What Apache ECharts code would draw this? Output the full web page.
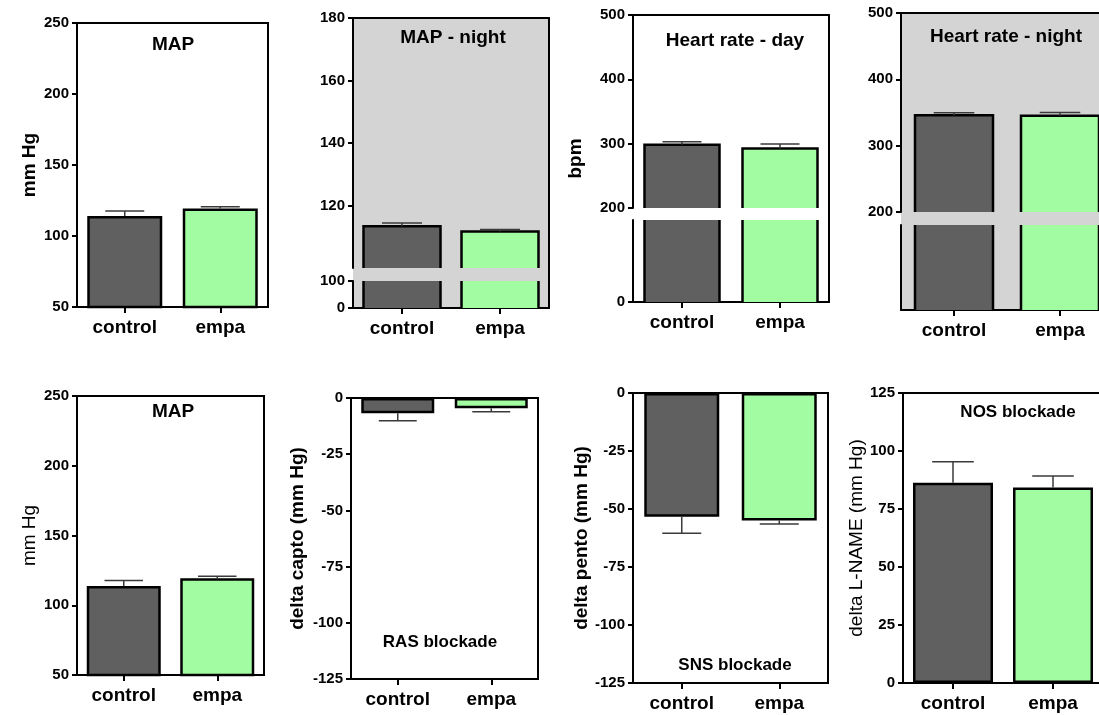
<!DOCTYPE html>
<html>
<head>
<meta charset="utf-8">
<script src="https://cdn.jsdelivr.net/npm/echarts@6/dist/echarts.min.js"></script>
<style>
  html, body { margin: 0; padding: 0; background: #fff; }
  #main { width: 1099px; height: 715px; }
</style>
</head>
<body>
<div id="main"></div>
<script>
const categories = ['control', 'empa'];

// top row: day / night telemetry
const mapDayMean = [114.0, 119.3];
const mapDayErr = [3.6, 1.3];
const mapNightMean = [113.4, 111.7];
const mapNightErr = [1.0, 0.6];
const hrDayMean = [298.5, 292.5];
const hrDayErr = [4.5, 7.0];
const hrNightMean = [346, 345];
const hrNightErr = [3.5, 5.0];

// bottom row: MAP and blockade responses
const mapMean = [113.8, 119.3];
const mapErr = [3.9, 1.5];
const captoMean = [-6.8, -4.6];
const captoErr = [3.3, 1.5];
const pentoMean = [-53.3, -55.0];
const pentoErr = [7.2, 1.5];
const lnameMean = [86.3, 84.3];
const lnameErr = [9.1, 4.9];

// axis ranges [min, max, interval]
const mapTicks = [50, 250, 50];
const mapNightUpperTicks = [100, 180, 20];
const mapNightLowerTicks = [0, 100, 100];
const hrUpperTicks = [200, 500, 100];
const hrLowerTicks = [0, 200, 200];
const deltaNegTicks = [-125, 0, 25];
const deltaPosTicks = [0, 125, 25];

const barColors = ['#606060', '#a2fca2'];
const FONT = '"Liberation Sans", Arial, sans-serif';
const GREY = '#d4d4d4';

const panels = [
  { title: 'MAP', tx: 173, ty: 46, left: 77, top: 23, width: 191, height: 284, bg: '#fff',
    mean: mapDayMean, err: mapDayErr, ticks: mapTicks, name: 'mm Hg', nameGap: 38, barWidth: 75 },
  { title: 'MAP - night', tx: 453, ty: 39, left: 353, top: 18, width: 196, bg: GREY,
    mean: mapNightMean, err: mapNightErr, barWidth: 77,
    broken: { upperH: 250, gap: 13, lowerH: 27, upper: mapNightUpperTicks, lower: mapNightLowerTicks,
      upperMin: false, lowerLabels: 'all', lowerTicks: true } },
  { title: 'Heart rate - day', tx: 735, ty: 42, left: 633, top: 15, width: 196, bg: '#fff',
    mean: hrDayMean, err: hrDayErr, barWidth: 75, name: 'bpm', nameGap: 48,
    broken: { upperH: 193, gap: 12, lowerH: 82, upper: hrUpperTicks, lower: hrLowerTicks,
      upperMin: true, lowerLabels: 'min', lowerTicks: true } },
  { title: 'Heart rate - night', tx: 1006, ty: 38, left: 901, top: 13, width: 212, bg: GREY,
    mean: hrNightMean, err: hrNightErr, barWidth: 78,
    broken: { upperH: 199, gap: 13, lowerH: 85, upper: hrUpperTicks, lower: hrLowerTicks,
      upperMin: true, lowerLabels: 'none', lowerTicks: false } },

  { title: 'MAP', tx: 173, ty: 413, left: 77, top: 396, width: 187, height: 279, bg: '#fff',
    mean: mapMean, err: mapErr, ticks: mapTicks, name: 'mm Hg', nameGap: 38, nameWeight: 'normal', barWidth: 74 },
  { title: 'RAS blockade', tx: 440, ty: 643, small: true, left: 351, top: 398, width: 187, height: 281, bg: '#fff',
    mean: captoMean, err: captoErr, ticks: deltaNegTicks, name: 'delta capto (mm Hg)', nameGap: 44, barWidth: 73 },
  { title: 'SNS blockade', tx: 735, ty: 666, small: true, left: 633, top: 393, width: 195, height: 290, bg: '#fff',
    mean: pentoMean, err: pentoErr, ticks: deltaNegTicks, name: 'delta pento (mm Hg)', nameGap: 34, barWidth: 75 },
  { title: 'NOS blockade', tx: 1018, ty: 413, small: true, left: 903, top: 393, width: 200, height: 290, bg: '#fff',
    mean: lnameMean, err: lnameErr, ticks: deltaPosTicks, name: 'delta L-NAME (mm Hg)', nameGap: 33,
    nameWeight: 'normal', barWidth: 80 }
];

const grid = [], xAxis = [], yAxis = [], series = [], title = [];

function addGrid(g) {
  grid.push(Object.assign({ containLabel: false, outerBoundsMode: 'none' }, g));
  return grid.length - 1;
}

function catAxis(gi, showLabels) {
  xAxis.push({
    type: 'category', gridIndex: gi, data: categories, show: true,
    axisLine: { show: showLabels, onZero: false, lineStyle: { color: '#000', width: 2 } },
    axisTick: { show: showLabels, alignWithLabel: true, length: 6, lineStyle: { color: '#000', width: 2 } },
    axisLabel: { show: showLabels, margin: 11, color: '#000', fontSize: 19, fontWeight: 'bold', fontFamily: FONT },
    splitLine: { show: false }
  });
  return xAxis.length - 1;
}

function valAxis(gi, ticks, opt) {
  opt = opt || {};
  yAxis.push({
    type: 'value', gridIndex: gi, min: ticks[0], max: ticks[1], interval: ticks[2],
    axisLine: { show: true, lineStyle: { color: '#000', width: 2 } },
    axisTick: { show: opt.ticks !== false, inside: false, length: 5, lineStyle: { color: '#000', width: 2 } },
    axisLabel: {
      show: opt.labels !== false, margin: 8, color: '#000', fontSize: 15, fontWeight: 'bold', fontFamily: FONT,
      showMinLabel: opt.showMin !== false, showMaxLabel: opt.showMax !== false
    },
    splitLine: { show: false },
    name: opt.name || '', nameLocation: 'middle', nameGap: opt.nameGap || 30,
    nameTextStyle: { color: '#000', fontSize: 19, fontWeight: opt.nameWeight || 'bold', fontFamily: FONT }
  });
  return yAxis.length - 1;
}

function addBars(xi, yi, p, border) {
  series.push({
    type: 'bar', xAxisIndex: xi, yAxisIndex: yi, barWidth: p.barWidth, clip: true,
    data: p.mean.map((v, i) => ({
      value: v,
      itemStyle: { color: barColors[i], borderColor: '#000', borderWidth: border ? 2.5 : 0 }
    })),
    silent: true, animation: false
  });
}

// outline for bars cut by an axis break: sides + top only, no edge at the cut
function addOutline(xi, yi, p) {
  series.push({
    type: 'custom', xAxisIndex: xi, yAxisIndex: yi, silent: true, animation: false, z: 3,
    data: p.mean.map((v, i) => [i, v]),
    encode: { x: 0, y: 1 },
    renderItem: function (params, api) {
      const c = api.coord([api.value(0), api.value(1)]);
      const cs = params.coordSys;
      const xl = c[0] - p.barWidth / 2, xr = c[0] + p.barWidth / 2;
      const yb = cs.y + cs.height;
      const style = { stroke: '#000', lineWidth: 2.5, fill: null };
      if (c[1] >= cs.y) {
        return { type: 'polyline', shape: { points: [[xl, yb], [xl, c[1]], [xr, c[1]], [xr, yb]] }, style: style };
      }
      return {
        type: 'group',
        children: [
          { type: 'line', shape: { x1: xl, y1: yb, x2: xl, y2: cs.y }, style: style },
          { type: 'line', shape: { x1: xr, y1: yb, x2: xr, y2: cs.y }, style: style }
        ]
      };
    }
  });
}

function addErrors(xi, yi, p) {
  series.push({
    type: 'custom', xAxisIndex: xi, yAxisIndex: yi, silent: true, animation: false, z: 4,
    data: p.mean.map((v, i) => [i, v, p.err[i]]),
    encode: { x: 0, y: 1 },
    renderItem: function (params, api) {
      const m = api.value(1), e = api.value(2);
      const dir = m >= 0 ? 1 : -1;
      const base = api.coord([api.value(0), m]);
      const tip = api.coord([api.value(0), m + dir * e]);
      const hw = p.barWidth * 0.26;
      const style = { stroke: '#3a3a3a', lineWidth: 1.5 };
      return {
        type: 'group',
        children: [
          { type: 'line', shape: { x1: base[0], y1: base[1], x2: tip[0], y2: tip[1] }, style: style },
          { type: 'line', shape: { x1: tip[0] - hw, y1: tip[1], x2: tip[0] + hw, y2: tip[1] }, style: style }
        ]
      };
    }
  });
}

panels.forEach(p => {
  const fs = p.small ? 17 : 19;
  title.push({
    text: p.title, left: p.tx, top: p.ty - fs / 2 - 1, textAlign: 'center', padding: 0,
    textStyle: { color: '#000', fontSize: fs, fontWeight: 'bold', fontFamily: FONT }
  });

  if (!p.broken) {
    const gi = addGrid({ left: p.left, top: p.top, width: p.width, height: p.height,
      show: true, backgroundColor: p.bg, borderColor: '#000', borderWidth: 2 });
    const xi = catAxis(gi, true);
    const yi = valAxis(gi, p.ticks, { name: p.name, nameGap: p.nameGap, nameWeight: p.nameWeight });
    addBars(xi, yi, p, true);
    addErrors(xi, yi, p);
    return;
  }

  // broken axis: background frame + upper and lower segments
  const b = p.broken;
  const totalH = b.upperH + b.gap + b.lowerH;
  const bg = addGrid({ left: p.left, top: p.top, width: p.width, height: totalH,
    show: true, backgroundColor: p.bg, borderWidth: 0 });
  xAxis.push({ type: 'category', gridIndex: bg, data: categories, position: 'top',
    axisLine: { show: true, onZero: false, lineStyle: { color: '#000', width: 2 } },
    axisTick: { show: false }, axisLabel: { show: false }, splitLine: { show: false } });
  yAxis.push({ type: 'value', gridIndex: bg, min: 0, max: 1, position: 'right',
    axisLine: { show: true, lineStyle: { color: '#000', width: 2 } },
    axisTick: { show: false }, axisLabel: { show: false }, splitLine: { show: false } });
  yAxis.push({ type: 'value', gridIndex: bg, min: 0, max: 1, position: 'left',
    axisLine: { show: false }, axisTick: { show: false }, axisLabel: { show: false }, splitLine: { show: false },
    name: p.name || '', nameLocation: 'middle', nameGap: p.nameGap || 30,
    nameTextStyle: { color: '#000', fontSize: 19, fontWeight: 'bold', fontFamily: FONT } });

  const gu = addGrid({ left: p.left, top: p.top, width: p.width, height: b.upperH });
  const xu = catAxis(gu, false);
  const yu = valAxis(gu, b.upper, { showMin: b.upperMin });
  addBars(xu, yu, p, false);
  addOutline(xu, yu, p);
  addErrors(xu, yu, p);

  const gl = addGrid({ left: p.left, top: p.top + b.upperH + b.gap, width: p.width, height: b.lowerH });
  const xl = catAxis(gl, true);
  const yl = valAxis(gl, b.lower, {
    labels: b.lowerLabels !== 'none', showMax: b.lowerLabels === 'all', ticks: b.lowerTicks
  });
  addBars(xl, yl, p, false);
  addOutline(xl, yl, p);
});

const chart = echarts.init(document.getElementById('main'), null, { renderer: 'canvas' });
chart.setOption({
  animation: false,
  backgroundColor: '#fff',
  title: title,
  grid: grid,
  xAxis: xAxis,
  yAxis: yAxis,
  series: series
});
</script>
</body>
</html>
